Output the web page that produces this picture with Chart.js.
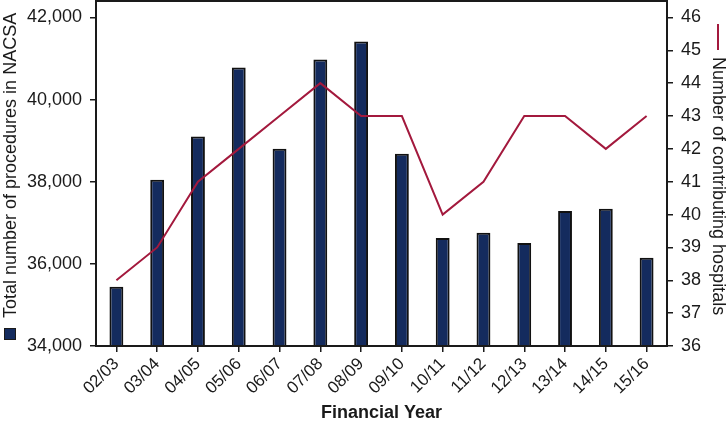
<!DOCTYPE html>
<html>
<head>
<meta charset="utf-8">
<script src="https://cdn.jsdelivr.net/npm/chart.js@4.4.1/dist/chart.umd.min.js"></script>
<style>
  html, body { margin: 0; padding: 0; background: #fff; }
  #wrap { width: 728px; height: 429px; }
</style>
</head>
<body>
<div id="wrap"><canvas id="myChart" width="728" height="429"></canvas></div>
<script>
// data
const years = ['02/03', '03/04', '04/05', '05/06', '06/07', '07/08', '08/09',
               '09/10', '10/11', '11/12', '12/13', '13/14', '14/15', '15/16'];
const procedures = [35440, 38050, 39100, 40780, 38800, 40975, 41415,
                    38680, 36630, 36760, 36510, 37290, 37340, 36150];
const hospitals = [38, 39, 41, 42, 43, 44, 43, 43, 40, 41, 43, 43, 42, 43];
const leftTicks = [34000, 36000, 38000, 40000, 42000];
const rightTicks = [36, 37, 38, 39, 40, 41, 42, 43, 44, 45, 46];

const navy = '#142b5e';
const red = '#a3193d';
const ink = '#1a1a1a';
const font = '"Liberation Sans", Arial, sans-serif';

// titles + legend marks + frame
const decor = {
    id: 'decor',
    afterDraw(chart){
        const c = chart.ctx;
        const a = chart.chartArea;
        c.save();
        c.strokeStyle = ink;
        c.lineWidth = 2;
        c.strokeRect(a.left, a.top, a.right - a.left, a.bottom - a.top);

        c.fillStyle = ink;
        c.font = '18px ' + font;
        c.textBaseline = 'middle';
        c.textAlign = 'left';
        // left title
        c.save();
        c.translate(11, 318);
        c.rotate(-Math.PI / 2);
        c.fillText('Total number of procedures in NACSA', 0, 0);
        c.restore();
        // right title
        c.save();
        c.translate(718, 57);
        c.rotate(Math.PI / 2);
        c.fillText('Number of contributing hospitals', 0, 0);
        c.restore();

        // legend marks
        c.fillStyle = navy;
        c.fillRect(4, 328, 12, 12);
        c.lineWidth = 1;
        c.strokeStyle = ink;
        c.strokeRect(4.5, 328.5, 11, 11);
        c.strokeStyle = red;
        c.lineWidth = 2;
        c.beginPath();
        c.moveTo(718, 24);
        c.lineTo(718, 50);
        c.stroke();

        // x title
        c.fillStyle = ink;
        c.font = 'bold 18px ' + font;
        c.textAlign = 'center';
        c.fillText('Financial Year', (a.left + a.right) / 2, 413);
        c.restore();
    }
};

function fitY(w){
    return s => { s.width = w; s.paddingTop = 0; s.paddingBottom = 0; };
}

const ctx = document.querySelector('#myChart').getContext('2d');
const myChart = new Chart(ctx, {
    type: 'bar',
    data: {
        labels: years,
        datasets: [{
            type: 'line',
            label: 'Number of contributing hospitals',
            data: hospitals,
            yAxisID: 'y1',
            borderColor: red,
            borderWidth: 2,
            pointRadius: 0,
            tension: 0,
            order: 0
        }, {
            label: 'Total number of procedures in NACSA',
            data: procedures,
            yAxisID: 'y',
            backgroundColor: navy,
            borderColor: '#111',
            borderWidth: 2,
            barPercentage: 0.34,
            categoryPercentage: 1,
            order: 1
        }]
    },
    options: {
        responsive: false,
        animation: false,
        layout: { padding: { top: 1 } },
        plugins: { legend: { display: false }, tooltip: { enabled: false } },
        scales: {
            x: {
                afterFit: s => { s.height = 83; s.paddingLeft = 0; s.paddingRight = 0; },
                grid: { display: true, offset: false, drawOnChartArea: false, tickLength: 6, color: ink, lineWidth: 1.5 },
                border: { display: false },
                ticks: {
                    color: ink, font: { family: font, size: 17 },
                    minRotation: 45, maxRotation: 45, padding: 2, autoSkip: false
                }
            },
            y: {
                position: 'left',
                min: 34000, max: 42400,
                afterFit: fitY(96),
                afterBuildTicks: s => { s.ticks = leftTicks.map(v => ({ value: v })); },
                grid: { display: true, drawOnChartArea: false, tickLength: 6, color: ink, lineWidth: 1.5 },
                border: { display: false },
                ticks: {
                    color: ink, font: { family: font, size: 18 }, padding: 8,
                    callback: v => v.toLocaleString('en-US')
                }
            },
            y1: {
                position: 'right',
                min: 36, max: 46.5,
                afterFit: fitY(61),
                afterBuildTicks: s => { s.ticks = rightTicks.map(v => ({ value: v })); },
                grid: { display: true, drawOnChartArea: false, tickLength: 6, color: ink, lineWidth: 1.5 },
                border: { display: false },
                ticks: { color: ink, font: { family: font, size: 18 }, padding: 8 }
            }
        }
    },
    plugins: [decor]
});
</script>
</body>
</html>
